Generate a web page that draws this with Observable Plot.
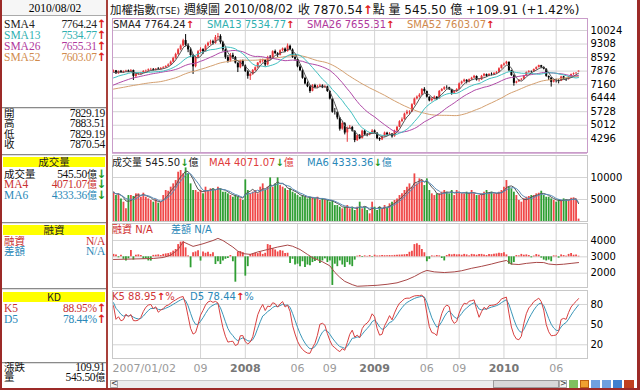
<!DOCTYPE html>
<html><head><meta charset="utf-8">
<script src="https://cdn.jsdelivr.net/npm/d3@7"></script>
<script src="https://cdn.jsdelivr.net/npm/@observablehq/plot@0.6"></script>
<style>
html,body{margin:0;padding:0;}
body{width:640px;height:390px;overflow:hidden;background:#fff;position:relative;font-family:"DejaVu Sans","Noto Sans CJK TC",sans-serif;}
.t{position:absolute;white-space:nowrap;line-height:10px;height:10px;overflow:visible;}
.t span{line-height:10px;}
.col{position:absolute;white-space:nowrap;}
.box{position:absolute;}
.lp{font-family:"Liberation Serif","Noto Sans CJK TC",serif;font-size:11.5px;}
.lc{font-family:"Noto Sans CJK TC",sans-serif;font-size:10.5px;}
.lv{font-family:"Liberation Serif","Noto Sans CJK TC",serif;font-size:11.5px;letter-spacing:-0.3px;}
.c{font-family:"Noto Sans CJK TC";font-size:10px;}
.up{color:#e0201c;font-weight:bold;font-family:"DejaVu Sans";}
.dn{color:#1e9a1e;font-weight:bold;font-family:"DejaVu Sans";}
.lg{font-family:"DejaVu Sans","Noto Sans CJK TC";font-size:10px;}
.tt{height:14px;line-height:14px;top:2px !important;}
.tt span{line-height:14px;}
</style></head><body>
<script>
// ---------- DATA ----------
const closes2006 = [6620,6480,6600,6650,6600,6550,6500,6620,6550,6500,
6620,6570,6610,6850,6980,7050,7150,7400,7250,6950,
6700,6550,6350,6500,6704,6700,6500,6300,6450,6550,
6600,6650,6650,6690,6800,6950,6950,7000,7100,7150,
7200,7150,7300,7400,7450,7350,7450,7550,7650,7750,
7780,7823];
const opens = [7823,7890,7735,7865,7795,7845,7885,7835,7905,7590,
7705,7715,7785,7865,7885,7945,7965,7915,7985,7955,
8025,8065,8125,8205,8355,8555,8760,9010,9210,9490,
9240,8990,8690,8110,8610,8910,9010,8890,9210,9360,
9430,9340,9660,9710,9390,8990,8590,8410,8710,8590,
8290,8060,8410,8140,7840,7590,7710,7910,8060,8310,
8410,8440,8210,8610,8560,8910,8790,8710,8960,9040,
8910,9190,8990,8590,8490,8090,7890,7490,7190,7040,
6810,7110,7010,7060,7090,7010,7040,6790,6390,5710,
5690,5390,4810,5090,4610,4860,4890,4690,4210,4450,
4310,4690,4510,4490,4600,4710,4590,4310,4240,4410,
4590,4510,4540,4410,4710,4910,5210,5310,5610,5690,
5710,6110,6410,6510,6610,6910,6790,6490,6310,6410,
6490,6410,6810,6910,7010,6990,6890,6710,6810,6910,
7210,7310,7390,7290,7430,7510,7590,7390,7410,7610,
7690,7610,7710,7690,7760,7810,8010,8190,8260,8340,
7890,7630,7240,7310,7410,7450,7630,7810,7840,7840,
7970,8070,8160,8070,7970,7590,7510,7290,7390,7370,
7340,7570,7440,7430,7560,7700,7740,7829.19];
const highs = [7930,7910,7880,7910,7880,7920,7930,7960,7930,7720,
7790,7810,7900,7930,7990,8020,8010,8010,8060,8060,
8110,8160,8260,8410,8610,8820,9060,9260,9560,9810,
9320,9100,8760,8650,8960,9110,9060,9260,9410,9510,
9510,9760,9860,9800,9450,9050,8700,8810,8820,8650,
8320,8450,8460,8200,7900,7760,7960,8100,8330,8500,
8510,8480,8660,8700,8950,8990,8850,9000,9100,9100,
9310,9250,9050,8680,8530,8200,7950,7550,7300,7100,
7160,7180,7120,7180,7150,7120,7080,6820,6420,5900,
5720,5420,5200,5150,4920,5000,4950,4720,4500,4520,
4750,4760,4580,4620,4780,4760,4620,4350,4450,4650,
4640,4620,4570,4750,4950,5250,5400,5650,5800,5780,
6150,6450,6560,6680,6950,7000,6820,6520,6460,6560,
6530,6850,6950,7050,7100,7020,6920,6850,6950,7250,
7350,7450,7420,7460,7550,7650,7620,7480,7650,7750,
7720,7740,7780,7800,7850,8050,8200,8300,8395,8360,
7920,7680,7340,7420,7480,7650,7830,7900,7880,7990,
8100,8190,8180,8100,8000,7620,7530,7450,7450,7420,
7600,7600,7480,7590,7720,7780,7800,7883.51];
const lows = [7790,7700,7710,7760,7750,7800,7800,7820,7380,7500,
7640,7690,7760,7800,7850,7900,7880,7880,7930,7940,
7980,8030,8100,8180,8300,8500,8700,8950,9150,9150,
8850,8600,7700,8050,8550,8800,8750,8880,9150,9250,
9250,9300,9500,9300,8900,8500,8300,8350,8500,8250,
7800,8000,8100,7800,7450,7380,7650,7850,8000,8250,
8300,8100,8150,8450,8540,8750,8600,8680,8900,8850,
8880,8950,8550,8400,8050,7850,7450,7150,7000,6700,
6780,6950,6950,7000,6950,6960,6750,6350,5650,5550,
5300,4700,4750,4500,4110,4800,4650,4090,4150,4250,
4280,4450,4400,4450,4560,4550,4250,4160,4200,4380,
4450,4470,4330,4380,4680,4880,5150,5280,5550,5550,
5700,6050,6350,6450,6580,6700,6450,6250,6240,6350,
6330,6390,6780,6850,6920,6850,6600,6650,6750,6880,
7150,7250,7200,7250,7380,7480,7350,7300,7380,7560,
7550,7580,7620,7650,7700,7780,7980,8130,8200,7850,
7600,7080,7200,7280,7350,7420,7600,7760,7760,7800,
7930,8040,8000,7940,7550,7380,7030,7250,7250,7200,
7320,7420,7330,7400,7540,7650,7700,7829.19];
const closes = [7880,7740,7860,7800,7840,7880,7830,7900,7600,7700,
7720,7780,7860,7880,7940,7960,7920,7980,7960,8020,
8060,8120,8200,8350,8550,8750,9000,9200,9480,9250,
9000,8700,8100,8600,8900,9000,8900,9200,9350,9420,
9350,9650,9700,9400,9000,8600,8400,8700,8600,8300,
8050,8400,8150,7850,7600,7700,7900,8050,8300,8400,
8450,8200,8600,8550,8900,8800,8700,8950,9050,8900,
9200,9000,8600,8500,8100,7900,7500,7200,7050,6800,
7100,7000,7050,7100,7000,7050,6800,6400,5700,5700,
5400,4800,5100,4600,4850,4900,4700,4200,4460,4300,
4700,4500,4500,4591,4700,4600,4300,4250,4400,4600,
4500,4550,4400,4700,4900,5200,5300,5600,5700,5700,
6100,6400,6500,6600,6900,6800,6500,6300,6400,6500,
6400,6800,6900,7000,7000,6900,6700,6800,6900,7200,
7300,7400,7300,7420,7500,7600,7400,7400,7600,7700,
7600,7700,7700,7750,7800,8000,8188,8250,8350,7900,
7640,7230,7300,7400,7440,7620,7800,7850,7830,7960,
8060,8166,8080,7980,7600,7520,7280,7400,7380,7330,
7560,7450,7420,7555,7690,7735.79,7760.63,7870.54];
const volumes = [6660,5900,6280,5140,4390,2870,5900,5900,5680,6280,
6280,5520,6430,5520,5140,4770,4390,4920,4160,4390,
5900,7040,6880,7800,8550,9310,11200,11580,10820,12180,
10820,8550,7040,7040,6660,7040,6280,7800,7040,7420,
7420,7040,7800,7420,6660,6660,6280,5900,5520,5900,
5520,5140,4770,9460,7040,6280,6660,7040,6280,7800,
8550,7040,7800,9910,7800,8550,9910,8170,7800,7420,
7040,7420,6660,6280,5900,5520,5900,5520,5140,5520,
5370,5140,5520,4770,5140,4920,4770,4390,4770,3630,
3630,3250,2870,3250,3630,2870,3250,2500,3250,4390,
2870,3250,2500,1740,4390,3250,2500,3250,2870,3630,
3250,4010,4390,4770,5140,5900,6280,7040,7800,8550,
7800,10820,8550,9690,9310,8170,9690,7040,6280,5900,
6280,6280,6660,7040,6660,6280,7040,5900,7040,6660,
6280,6280,6660,6280,7040,6280,5900,5900,6280,6660,
7040,6280,6660,6280,6280,6660,7040,7800,9310,7800,
7420,6660,5900,4770,4390,5140,5520,5680,5900,5900,
6280,6430,6880,5900,5520,5520,5140,4770,4390,4920,
4770,5140,4900,4815.88,5270,5380,5088.78,545.5];
const marginDiff = [150,120,-60,100,-150,-250,-120,390,-200,100,
120,80,-150,-120,-250,-260,90,100,120,80,
150,180,200,250,350,450,750,900,920,550,
60,-670,250,300,380,-260,300,220,280,150,
250,-470,-300,-470,-250,-150,-100,80,-300,-1550,
300,320,260,-1180,-600,150,180,220,200,280,
150,220,750,700,500,420,300,380,350,200,
220,-400,-150,-500,-450,-600,-300,-650,-500,-550,
-350,-280,-200,-400,-250,-120,-350,-250,-1750,-450,
-600,-250,-500,-650,-350,-500,-600,-200,40,80,
-40,60,30,80,-30,100,50,60,80,70,
60,80,60,90,100,110,120,130,150,280,
350,750,800,700,450,250,-300,-150,60,40,
80,60,-100,-250,80,150,120,150,120,130,
100,150,120,60,150,130,100,140,150,120,
80,150,130,160,180,220,200,250,120,-450,
-500,-350,80,60,150,100,120,80,-60,50,
140,100,-80,-200,-250,-200,-300,60,50,-80,
120,80,40,150,200,100,120,40];
const marginIdx = [0,8,16,20,23,26,28,30,32,34,36,38,40,42,44,46,48,50,52,55,58,62,66,70,72,75,78,80,84,87,89,91,93,96,98,102,106,110,114,118,121,124,126,129,133,137,140,144,148,152,155,158,160,163,166,170,173,175,178,181,184,187];
const marginBal = [2840,2870,2900,2960,3100,3450,3920,3780,3640,3720,3800,3900,4000,4130,4000,3800,3600,3350,3200,3150,3300,3450,3600,3720,3650,3450,3150,2950,2700,2450,2050,1750,1500,1300,1200,1230,1260,1320,1410,1600,1800,2050,2170,2080,2040,2080,2150,2300,2420,2560,2680,2780,2560,2530,2600,2660,2650,2560,2520,2550,2600,2650];
const tickIdx = [0,35,53,74,87,105,126,139,157,178];
const tickLabels = ["2007/01/02","09","2008","06","09","2009","06","09","2010","06"];
const priceTicks = [10024,9308,8592,7876,7160,6444,5728,5012,4296];
const volTicks = [10000,5000];
const marginTicks = [4000,3000,2000];
const kdTicks = [80,50,20];

// ---------- BUILD ----------
const N = closes.length;
const RED = "#e8353a", GRN = "#2f9e33";
const rows = d3.range(N).map(i => ({i, o: opens[i], h: highs[i], l: lows[i], c: closes[i], v: volumes[i], md: marginDiff[i], up: closes[i] >= opens[i]}));
const full = closes2006.map((c, j) => ({i: j - closes2006.length, c})).concat(rows.map(d => ({i: d.i, c: d.c})));
let kp = 85, dp = 85;
rows.forEach((d, i) => {
  let hh = -Infinity, ll = Infinity;
  for (let j = Math.max(0, i - 4); j <= i; j++) { hh = Math.max(hh, highs[j]); ll = Math.min(ll, lows[j]); }
  const rsv = hh > ll ? (closes[i] - ll) / (hh - ll) * 100 : 50;
  kp = kp * 2 / 3 + rsv / 3; dp = dp * 2 / 3 + kp / 3;
  d.k = kp; d.d = dp;
});
const mline = marginIdx.map((i, j) => ({i, v: marginBal[j]}));
const ticks = tickIdx.map((i, j) => ({i, label: tickLabels[j], year: tickLabels[j].length === 4}));
const gridIdx = tickIdx.slice(1);

const X = {domain: [-0.4, 190.6], axis: null};
const base = {width: 532, marginLeft: 4, marginRight: 53, color: {type: "identity"},
  style: {background: "transparent", overflow: "visible", fontFamily: "DejaVu Sans", fontSize: "10px", color: "#000"}};
const GRID = "#d4d4d4";
function place(svg, top) { svg.style.position = "absolute"; svg.style.left = "108px"; svg.style.top = top + "px"; document.body.appendChild(svg); }
function yaxis(t) { return Plot.axisY(t, {anchor: "right", tickSize: 0, tickPadding: 3, fontSize: 10, fill: "#000", tickFormat: d => String(d), label: null}); }

const sma = (k, color) => Plot.lineY(full, Plot.windowY({k, anchor: "end"}, {x: "i", y: "c", stroke: color, strokeWidth: 1, clip: true}));

place(Plot.plot({...base, height: 136, marginTop: 1, marginBottom: 1, x: X,
  y: {domain: [3570, 10659], axis: null},
  marks: [
    Plot.gridY(priceTicks, {stroke: GRID, strokeOpacity: 1}),
    Plot.gridX(gridIdx, {stroke: GRID, strokeOpacity: 1}),
    yaxis(priceTicks),
    Plot.ruleX(rows, {x: "i", y1: "l", y2: "h", stroke: d => d.up ? RED : "#000", strokeWidth: 1}),
    Plot.ruleX(rows, {x: "i", y1: "o", y2: "c", stroke: d => d.up ? RED : "#000", strokeWidth: 2}),
    sma(52, "#d4a070"), sma(26, "#b04aa8"), sma(13, "#40c0c0"), sma(4, "#555"),
    Plot.frame({stroke: "#c99cc9"})
  ]}), 17);

place(Plot.plot({...base, height: 68, marginTop: 1, marginBottom: 1, x: X,
  y: {domain: [0, 15000], axis: null},
  marks: [
    Plot.gridY(volTicks, {stroke: GRID, strokeOpacity: 1}),
    Plot.gridX(gridIdx, {stroke: GRID, strokeOpacity: 1}),
    yaxis(volTicks),
    Plot.ruleX(rows, {x: "i", y1: 0, y2: "v", stroke: d => d.up ? "#f04848" : GRN, strokeWidth: 1.8}),
    Plot.lineY(rows, Plot.windowY({k: 4, anchor: "end"}, {x: "i", y: "v", stroke: "#555", strokeWidth: 1})),
    Plot.lineY(rows, Plot.windowY({k: 6, anchor: "end"}, {x: "i", y: "v", stroke: "#5a8cb8", strokeWidth: 1})),
    Plot.frame({stroke: "#c8c8c8"})
  ]}), 154);

place(Plot.plot({...base, height: 66, marginTop: 1, marginBottom: 1, x: X,
  y: {domain: [1125, 5040], axis: null},
  marks: [
    Plot.gridY(marginTicks, {stroke: GRID, strokeOpacity: 1}),
    Plot.gridX(gridIdx, {stroke: GRID, strokeOpacity: 1}),
    yaxis(marginTicks),
    Plot.ruleX(rows, {x: "i", y1: 3000, y2: d => 3000 + d.md, stroke: d => d.md >= 0 ? "#f04848" : GRN, strokeWidth: 1.8}),
    Plot.line(mline, {x: "i", y: "v", stroke: "#a84848", strokeWidth: 1}),
    Plot.frame({stroke: "#c8c8c8"})
  ]}), 222);

place(Plot.plot({...base, height: 92, marginTop: 1, marginBottom: 23, x: X,
  y: {domain: [-0.4, 100.8], axis: null},
  marks: [
    Plot.gridY(kdTicks, {stroke: GRID, strokeOpacity: 1}),
    Plot.gridX(gridIdx, {stroke: GRID, strokeOpacity: 1}),
    yaxis(kdTicks),
    Plot.line(rows, {x: "i", y: "d", stroke: "#3a96b8", strokeWidth: 1}),
    Plot.line(rows, {x: "i", y: "k", stroke: "#d84040", strokeWidth: 1}),
    Plot.frame({stroke: "#c8c8c8"}),
    Plot.text(ticks.slice(0, 1), {x: "i", text: "label", frameAnchor: "bottom", dy: 13, dx: -1, textAnchor: "start", fill: "#9a9a9a", fontSize: 11}),
    Plot.text(ticks.filter(d => !d.year && d.i > 0), {x: "i", text: "label", frameAnchor: "bottom", dy: 13, fill: "#9a9a9a", fontSize: 11}),
    Plot.text(ticks.filter(d => d.year), {x: "i", text: "label", frameAnchor: "bottom", dy: 13, fill: "#777", fontSize: 11, fontWeight: "bold"})
  ]}), 289);

// ---------- HTML TEXT / CHROME ----------
function box(x, y, w, h, css) { const d = document.createElement("div"); d.className = "box"; d.style.cssText += `left:${x}px;top:${y}px;width:${w}px;height:${h}px;` + (css || ""); document.body.appendChild(d); return d; }
function T(x, y, html, css, right, cls) {
  const d = document.createElement("div"); d.className = "t" + (cls ? " " + cls : ""); d.innerHTML = html;
  d.style.cssText += (right ? `right:${640 - x}px;` : `left:${x}px;`) + `top:${y - 5}px;` + (css || "");
  document.body.appendChild(d); return d;
}
// a column of lines as one text block: y0 = centre of first line, lh = line spacing
function COL(x, y0, lh, lines, cls, right) {
  const d = document.createElement("div"); d.className = "col " + cls;
  d.style.cssText += (right ? `right:${640 - x}px;text-align:right;` : `left:${x}px;`) + `top:${y0 - lh / 2}px;line-height:${lh}px;`;
  d.innerHTML = lines.map(l => `<span style="color:${l[1]}">${l[0]}</span>`).join("<br>");
  document.body.appendChild(d); return d;
}
// borders
box(0, 0, 2, 390, "background:#9c2a28;");
box(637, 0, 3, 390, "background:#9c2a28;");
box(0, 388, 640, 2, "background:#9c2a28;");
box(106, 0, 2, 388, "background:#a8403a;");
box(112, 153, 475, 1, "background:#d9b4d9;");
// left header
box(2, 0, 104, 15, "border-bottom:1px solid #aaa;background:#f6f6f6;");
T(55, 8, "2010/08/02", "transform:translateX(-50%);", false, "lp");
const CY = "#2fb0b0", MG = "#b0389c", OR = "#d08a4c", LR = "#c83030", LB = "#2a88b8";
const ARU = '<span class="up">↑</span>', ARD = '<span class="dn">↓</span>';
const YI = '<span class="c">億</span>';
function sep(y) { box(2, y, 104, 1, "background:#8a8a8a;"); box(2, y + 1, 104, 1, "background:#dedede;"); }
sep(107); sep(153.5); sep(221.5); sep(288); sep(361.5);
function ybar(y, s) { box(3, y, 102, 10, "background:#ffff00;"); T(54, y + 5, s, "transform:translateX(-50%);color:#222;", false, "lc"); }
ybar(156.5, "成交量"); ybar(224.5, "融資"); ybar(291.5, "KD");

COL(4, 24, 11, [["SMA4", "#222"], ["SMA13", CY], ["SMA26", MG], ["SMA52", OR]], "lp");
COL(106, 24, 11, [["7764.24" + ARU, "#222"], ["7534.77" + ARU, CY], ["7655.31" + ARU, MG], ["7603.07" + ARU, OR]], "lv", true);
COL(4, 113, 10.5, [["開", "#111"], ["高", "#111"], ["低", "#111"], ["收", "#111"]], "lc");
COL(105, 113, 10.5, [["7829.19", "#111"], ["7883.51", "#111"], ["7829.19", "#111"], ["7870.54", "#111"]], "lv", true);
COL(4, 174, 10.5, [['<span class="lc">成交量</span>', "#111"], ["MA4", LR], ["MA6", LB]], "lp");
COL(106, 174, 10.5, [["545.50" + YI + ARD, "#111"], ["4071.07" + YI + ARD, LR], ["4333.36" + YI + ARD, LB]], "lv", true);
COL(4, 241, 10.5, [["融資", LR], ["差額", LB]], "lc");
COL(105, 241, 10.5, [["N/A", LR], ["N/A", LB]], "lv", true);
COL(4, 308.5, 10.5, [["K5", LR], ["D5", LB]], "lp");
COL(106, 308.5, 10.5, [["88.95%" + ARU, LR], ["78.44%" + ARU, LB]], "lv", true);
COL(4, 367, 10.5, [["漲跌", "#111"], ["量", "#111"]], "lc");
COL(105, 367, 10.5, [["109.91", "#111"], ["545.50" + YI, "#111"]], "lv", true);

// title
const CJ = s => `<span style="font-family:'Noto Sans CJK TC'">${s}</span>`;
T(110, 9, '<span style="font-family:\'Noto Sans CJK TC\';font-size:11.5px">加權指數</span><span style="font-size:9px">(TSE)</span>', "color:#111", false, "tt");
T(184, 9, '週線圖', "font-family:'Noto Sans CJK TC';font-size:12px;color:#111", false, "tt");
T(224, 9, '2010/08/02', "font-size:12px;color:#111", false, "tt");
T(298, 9, CJ('收'), "font-size:12px;color:#111", false, "tt");
T(313, 9, '7870.54' + ARU + CJ('點') + ' ' + CJ('量') + ' 545.50 ' + CJ('億') + ' +109.91 (+1.42%)', "font-size:12px;color:#111", false, "tt");

// panel legends
T(113, 24.5, 'SMA4 7764.24' + ARU, "color:#222", false, "lg");
T(207, 24.5, 'SMA13 7534.77' + ARU, `color:${CY}`, false, "lg");
T(307, 24.5, 'SMA26 7655.31' + ARU, `color:${MG}`, false, "lg");
T(407, 24.5, 'SMA52 7603.07' + ARU, `color:${OR}`, false, "lg");
T(112, 161.5, '<span class="c">成交量</span> 545.50' + ARD + YI, "color:#222", false, "lg");
T(209, 161.5, 'MA4 4071.07' + ARD + YI, `color:#e03c3c`, false, "lg");
T(307, 161.5, 'MA6 4333.36' + ARD + YI, `color:${LB}`, false, "lg");
T(112, 229, '<span class="c">融資</span> N/A', `color:#d03030`, false, "lg");
T(171, 229, '<span class="c">差額</span> N/A', `color:${LB}`, false, "lg");
T(112, 297, 'K5 88.95' + ARU + '%', `color:#d03838`, false, "lg");
T(190, 297, 'D5 78.44' + ARU + '%', `color:${LB}`, false, "lg");

// scrollbar
box(110, 380, 456, 8, "background:#ececec;border-top:1px solid #c8c8c8;box-sizing:border-box;");
box(110, 380, 8, 8, "background:#f4f4f4;border:1px solid #aaa;box-sizing:border-box;");
T(111, 384, '&lt;', "font-size:8px;line-height:8px;height:8px;top:380px;color:#333");
box(493, 380, 66, 8, "background:#d8d8d8;border:1px solid #9a9a9a;box-sizing:border-box;");
box(559, 380, 8, 8, "background:#f4f4f4;border:1px solid #aaa;box-sizing:border-box;");
T(560, 384, '&gt;', "font-size:8px;line-height:8px;height:8px;top:380px;color:#333");
box(569, 380, 9, 8, "background:#7fc060;");
box(580, 380, 9, 8, "background:#f0a030;border:1px solid #c06010;box-sizing:border-box;");
box(591, 380, 9, 8, "background:#6fa0e0;");
box(602, 380, 9, 8, "background:#6fa0e0;");
box(613, 380, 9, 8, "background:#4080d0;");
box(624, 380, 10, 8, "background:#c04020;");
</script>
</body></html>
